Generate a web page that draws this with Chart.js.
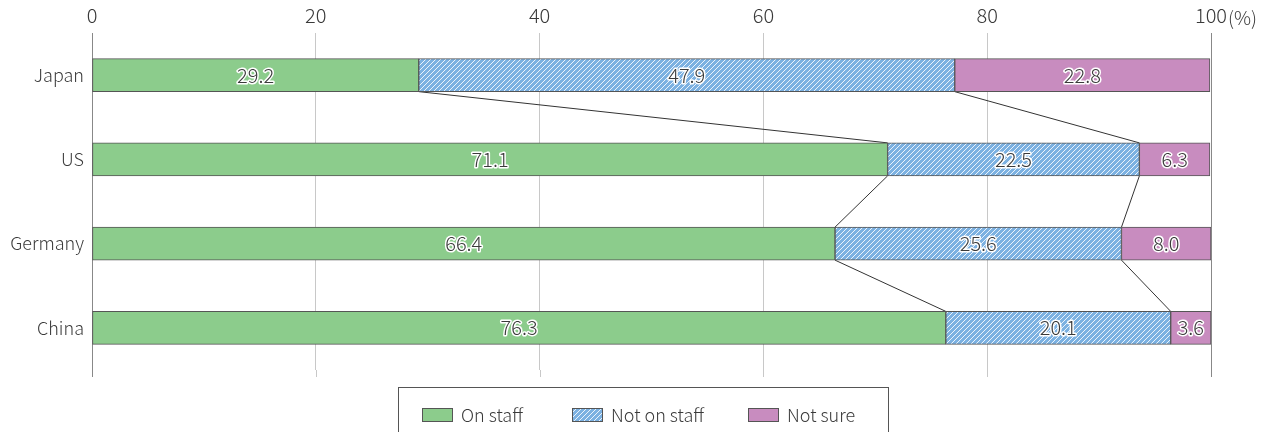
<!DOCTYPE html>
<html>
<head>
<meta charset="utf-8">
<script src="https://cdn.jsdelivr.net/npm/chart.js@4"></script>
<style>
  html, body { margin: 0; padding: 0; background: #fff; }
  #wrap { width: 1266px; height: 432px; }
</style>
</head>
<body>
<div id="wrap"><canvas id="chart1" width="1266" height="432"></canvas></div>
<script>
// data
var countries = ['Japan', 'US', 'Germany', 'China'];
var onStaff = [29.2, 71.1, 66.4, 76.3];
var notOnStaff = [47.9, 22.5, 25.6, 20.1];
var notSure = [22.8, 6.3, 8.0, 3.6];
var seriesNames = ['On staff', 'Not on staff', 'Not sure'];
var xTicks = [0, 20, 40, 60, 80, 100];

var FONT = "'Noto Sans CJK JP', 'Noto Sans', sans-serif";
var TEXT = '#3a3a3a';

// hatch fill for "Not on staff"
function makeHatch(){
    var c = document.createElement('canvas');
    c.width = 5; c.height = 5;
    var g = c.getContext('2d');
    g.fillStyle = '#7cb1e1';
    g.fillRect(0, 0, 5, 5);
    g.strokeStyle = 'rgba(255,255,255,0.85)';
    g.lineWidth = 1;
    g.beginPath();
    g.moveTo(-1, 6); g.lineTo(6, -1);
    g.moveTo(-1, 1); g.lineTo(1, -1);
    g.moveTo(4, 6); g.lineTo(6, 4);
    g.stroke();
    return g.createPattern(c, 'repeat');
}
var hatch = makeHatch();
var fills = ['#8ccc8c', hatch, '#c88cbf'];

// lines joining the segment boundaries of neighbouring bars
var connectors = {
    id: 'connectors',
    beforeDatasetsDraw: function(chart){
        var c = chart.ctx;
        c.save();
        c.strokeStyle = '#333';
        c.lineWidth = 1;
        for (var d = 0; d < 2; d++){
            var meta = chart.getDatasetMeta(d);
            for (var i = 0; i < countries.length - 1; i++){
                var a = meta.data[i], b = meta.data[i + 1];
                c.beginPath();
                c.moveTo(a.x, a.y + a.height / 2);
                c.lineTo(b.x, b.y - b.height / 2);
                c.stroke();
            }
        }
        c.restore();
    }
};

// value labels with white halo
var valueLabels = {
    id: 'valueLabels',
    afterDatasetsDraw: function(chart){
        var c = chart.ctx;
        c.save();
        c.font = '300 20px ' + FONT;
        c.textAlign = 'center';
        c.textBaseline = 'middle';
        c.lineJoin = 'round';
        chart.data.datasets.forEach(function(ds, d){
            var meta = chart.getDatasetMeta(d);
            meta.data.forEach(function(el, i){
                var t = ds.data[i].toFixed(1);
                var x = (el.x + el.base) / 2;
                c.strokeStyle = '#fff';
                c.lineWidth = 3;
                c.strokeText(t, x, el.y);
                c.fillStyle = TEXT;
                c.fillText(t, x, el.y);
            });
        });
        c.restore();
    }
};

// (%) unit, grid stubs below the plot, boxed legend
var extras = {
    id: 'extras',
    afterDraw: function(chart){
        var c = chart.ctx;
        var xs = chart.scales.x;
        var area = chart.chartArea;
        c.save();
        xs.ticks.forEach(function(t){
            var x = Math.round(xs.getPixelForValue(t.value)) + 0.5;
            c.strokeStyle = (t.value === 0 || t.value === 100) ? '#888' : '#c8c8c8';
            c.lineWidth = 1;
            c.beginPath();
            c.moveTo(x, area.bottom);
            c.lineTo(x, area.bottom + 7);
            c.stroke();
        });
        c.font = '300 19px ' + FONT;
        c.fillStyle = TEXT;
        c.textAlign = 'left';
        c.textBaseline = 'middle';
        c.fillText('(%)', xs.getPixelForValue(100) + 17, 18);

        // legend
        c.font = '300 18px ' + FONT;
        c.strokeStyle = '#555';
        c.lineWidth = 1;
        c.strokeRect(398.5, 387.5, 490, 50);
        var sw = [422, 572, 748];
        chart.data.datasets.forEach(function(ds, d){
            c.fillStyle = ds.backgroundColor;
            c.fillRect(sw[d], 408, 31, 14);
            c.strokeStyle = '#555';
            c.strokeRect(sw[d] + 0.5, 408.5, 30, 13);
            c.fillStyle = TEXT;
            c.fillText(ds.label, sw[d] + 39, 415);
        });
        c.restore();
    }
};

var datasets = [onStaff, notOnStaff, notSure].map(function(vals, i){
    return {
        label: seriesNames[i],
        data: vals,
        backgroundColor: fills[i],
        borderColor: '#555',
        borderWidth: 1,
        borderSkipped: false,
        barThickness: 33
    };
});

new Chart(document.getElementById('chart1').getContext('2d'), {
    type: 'bar',
    data: { labels: countries, datasets: datasets },
    plugins: [connectors, valueLabels, extras],
    options: {
        indexAxis: 'y',
        responsive: false,
        animation: false,
        layout: { padding: { left: 0, right: 55, top: 0, bottom: 62 } },
        plugins: { legend: { display: false }, tooltip: { enabled: false } },
        scales: {
            x: {
                position: 'top',
                stacked: true,
                min: 0,
                max: 100,
                afterBuildTicks: function(scale){
                    scale.ticks = xTicks.map(function(v){ return { value: v }; });
                },
                afterFit: function(scale){ scale.height = 33; },
                border: { display: false },
                grid: {
                    drawTicks: false,
                    color: function(ctx){
                        var v = ctx.tick && ctx.tick.value;
                        return (v === 0 || v === 100) ? '#888' : '#c8c8c8';
                    }
                },
                ticks: { color: TEXT, padding: 6, font: { family: FONT, size: 20, weight: '300' } }
            },
            y: {
                stacked: true,
                afterFit: function(scale){ scale.width = 92; },
                border: { display: false },
                grid: { display: false },
                ticks: { color: TEXT, padding: 0, font: { family: FONT, size: 18, weight: '300' } }
            }
        }
    }
});
</script>
</body>
</html>
